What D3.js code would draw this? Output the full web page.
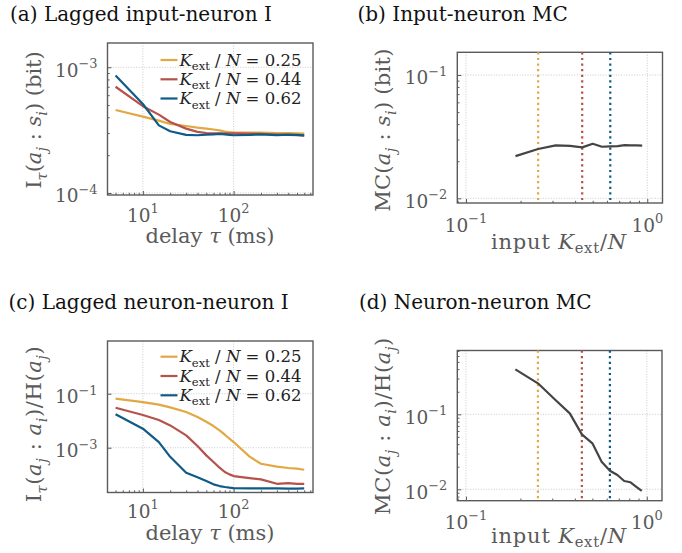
<!DOCTYPE html>
<html><head><meta charset="utf-8">
<script src="https://cdn.jsdelivr.net/npm/d3@7"></script>
<style>body{margin:0;background:#fff}svg{display:block}</style>
</head><body>
<svg id="c" width="682" height="553"></svg>
<script>
// ---------- data ----------
const tau = [5,10,15,20,30,40,50,60,70,80,90,100,150,200,300,400,500,600];
const kLabels = ["0.25","0.44","0.62"];
const kColors = ["#E1A845","#B5524B","#0F5B86"];
// (a) lagged input-neuron I (bit)
const inI_025 = [4.57e-4,4.05e-4,3.76e-4,3.54e-4,3.41e-4,3.31e-4,3.25e-4,3.2e-4,3.15e-4,3.08e-4,3.04e-4,3.03e-4,3.02e-4,3.02e-4,3.0e-4,3.0e-4,2.98e-4,2.97e-4];
const inI_044 = [7.0e-4,4.9e-4,4.2e-4,3.67e-4,3.25e-4,3.06e-4,3.0e-4,2.98e-4,2.98e-4,2.98e-4,2.98e-4,2.98e-4,2.97e-4,2.95e-4,2.92e-4,2.9e-4,2.88e-4,2.86e-4];
const inI_062 = [8.6e-4,5.1e-4,3.45e-4,3.1e-4,2.9e-4,2.88e-4,2.91e-4,2.93e-4,2.95e-4,2.93e-4,2.9e-4,2.88e-4,2.9e-4,2.93e-4,2.89e-4,2.91e-4,2.9e-4,2.87e-4];
// (c) lagged neuron-neuron I / H
const nnI_025 = [0.0653,0.0491,0.0392,0.0312,0.0209,0.01368,0.00918,0.00634,0.00439,0.00303,0.00215,0.00162,4.65e-4,2.55e-4,1.98e-4,1.77e-4,1.67e-4,1.53e-4];
const nnI_044 = [0.0303,0.0162,0.0106,0.00671,0.00286,0.00115,5.2e-4,2.94e-4,1.82e-4,1.26e-4,1.03e-4,8.9e-5,7.5e-5,6.7e-5,4.6e-5,4.9e-5,4.6e-5,4.6e-5];
const nnI_062 = [0.0172,0.00506,0.00162,4.6e-4,1.19e-4,8.0e-5,5.8e-5,4.4e-5,3.8e-5,3.5e-5,3.3e-5,3.2e-5,3.1e-5,3.1e-5,3.1e-5,3.05e-5,3.05e-5,3.1e-5];
// (b),(d) memory capacity vs input fraction
const kext = [0.1875,0.25,0.3125,0.375,0.4375,0.5,0.5625,0.625,0.6875,0.75,0.8125,0.875,0.9375];
const mcIn = [0.0220,0.0251,0.0269,0.0266,0.0259,0.0277,0.0262,0.0264,0.0265,0.0270,0.0269,0.0269,0.0267];
const mcNN = [0.398,0.259,0.155,0.103,0.054,0.041,0.0233,0.0177,0.0155,0.0129,0.0124,0.0108,0.0095];
const markK = [0.25,0.4375,0.625];

// ---------- helpers ----------
const FONT = "DejaVu Serif";
const svg = d3.select("#c");
function rich(t, parts, fs, subShift){
  let cur = 0;
  const sb = subShift===undefined ? 0.28 : subShift;
  parts.forEach(p=>{
    const s=p[0], o=p[1]||{};
    let target=0, size=fs;
    if(o.sub){target=fs*sb; size=fs*0.7;}
    if(o.sup){target=-fs*0.45; size=fs*0.7;}
    const ts=t.append("tspan").text(s).attr("font-size",size);
    if(target-cur!==0) ts.attr("dy",target-cur);
    if(o.i) ts.attr("font-style","italic");
    cur=target;
  });
  return t;
}
function text(x,y,fs,color,anchor){
  return svg.append("text").attr("x",x).attr("y",y).attr("font-family",FONT)
    .attr("font-size",fs).attr("fill",color).attr("text-anchor",anchor||"start");
}
function minorTicks(lo,hi){
  const out=[];
  for(let e=Math.floor(Math.log10(lo))-1;e<=Math.ceil(Math.log10(hi));e++){
    for(let m=2;m<=9;m++){const v=m*Math.pow(10,e); if(v>=lo&&v<=hi) out.push(v);}
  }
  return out;
}
const TICKFS=18.5, LABFS=21, TITLEFS=20, LEGFS=16.5;
const GRAY="#5a5a5a";

function panel(cfg){
  const x=d3.scaleLog().domain(cfg.xd).range([cfg.L,cfg.R]);
  const y=d3.scaleLog().domain(cfg.yd).range([cfg.B,cfg.T]);
  const g=svg.append("g");
  // grid
  cfg.xMaj.forEach(v=>g.append("line").attr("x1",x(v)).attr("x2",x(v)).attr("y1",cfg.T).attr("y2",cfg.B)
    .attr("stroke","#c4c4c4").attr("stroke-width",0.9).attr("stroke-dasharray","1,1.6"));
  cfg.yMaj.forEach(v=>g.append("line").attr("y1",y(v)).attr("y2",y(v)).attr("x1",cfg.L).attr("x2",cfg.R)
    .attr("stroke","#c4c4c4").attr("stroke-width",0.9).attr("stroke-dasharray","1,1.6"));
  // axes ticks (inward)
  const ax=(a)=>{a.select(".domain").remove(); a.selectAll("line").attr("stroke",GRAY).attr("stroke-width",1);};
  g.append("g").attr("transform",`translate(0,${cfg.B})`)
    .call(d3.axisBottom(x).tickValues(cfg.xMaj).tickSize(-4).tickFormat("")).call(ax);
  g.append("g").attr("transform",`translate(0,${cfg.B})`)
    .call(d3.axisBottom(x).tickValues(minorTicks(cfg.xd[0],cfg.xd[1])).tickSize(-2.2).tickFormat("")).call(ax);
  g.append("g").attr("transform",`translate(${cfg.L},0)`)
    .call(d3.axisLeft(y).tickValues(cfg.yMaj).tickSize(-4).tickFormat("")).call(ax);
  if(cfg.yMinor)
    g.append("g").attr("transform",`translate(${cfg.L},0)`)
      .call(d3.axisLeft(y).tickValues(minorTicks(cfg.yd[0],cfg.yd[1])).tickSize(-2.2).tickFormat("")).call(ax);
  // tick labels
  cfg.xMaj.forEach(v=>{
    const e=Math.round(Math.log10(v));
    rich(text(x(v),cfg.xLabY,TICKFS,GRAY,"middle"),[["10"],[String(e).replace("-","−"),{sup:true}]],TICKFS);
  });
  cfg.yLab.forEach(v=>{
    const e=Math.round(Math.log10(v));
    rich(text(cfg.L-10,y(v)+9.5,TICKFS,GRAY,"end"),[["10"],[String(e).replace("-","−"),{sup:true}]],TICKFS);
  });
  // frame
  g.append("rect").attr("x",cfg.L).attr("y",cfg.T).attr("width",cfg.R-cfg.L).attr("height",cfg.B-cfg.T)
    .attr("fill","none").attr("stroke",GRAY).attr("stroke-width",1.4);
  return {x,y,g};
}

function legend(lx,rows){
  kLabels.forEach((k,i)=>{
    svg.append("line").attr("x1",lx).attr("x2",lx+17).attr("y1",rows[i]).attr("y2",rows[i])
      .attr("stroke",kColors[i]).attr("stroke-width",2.2);
    rich(text(lx+19,rows[i]+5.5,LEGFS,"#222"),
      [["K",{i:true}],["ext",{sub:true}],[" / "],["N",{i:true}],[" = "+k]],LEGFS);
  });
}

// ---------- titles ----------
text(10,21,TITLEFS,"#111").text("(a) Lagged input-neuron I");
text(357.5,21,TITLEFS,"#111").text("(b) Input-neuron MC");
text(8.5,309,TITLEFS,"#111").text("(c) Lagged neuron-neuron I");
text(359,309,TITLEFS,"#111").text("(d) Neuron-neuron MC");

// ---------- panel (a) ----------
const A=panel({L:107.5,R:313,T:43,B:195,xd:[Math.pow(10,0.61),Math.pow(10,2.875)],yd:[Math.pow(10,-4.016),Math.pow(10,-2.807)],
  xMaj:[10,100],yMaj:[1e-4,1e-3],yLab:[1e-4,1e-3],yMinor:true,xLabY:221.5});
[inI_025,inI_044,inI_062].forEach((s,i)=>{
  A.g.append("path").datum(s).attr("fill","none").attr("stroke",kColors[i]).attr("stroke-width",2.2)
    .attr("stroke-linejoin","round")
    .attr("d",d3.line().x((d,j)=>A.x(tau[j])).y(d=>A.y(d)));
});
legend(160.5,[60,79.3,98.5]);
rich(text(210,242.5,LABFS,GRAY,"middle"),[["delay "],["τ",{i:true}],[" (ms)"]],LABFS);
rich(text(0,0,LABFS,GRAY,"middle").attr("transform","translate(41,120) rotate(-90)"),
  [["I"],["τ",{sub:true,i:true}],["("],["a",{i:true}],["j",{sub:true,i:true}],[" : "],["s",{i:true}],["i",{sub:true,i:true}],[")"],[" (bit)"]],LABFS);

// ---------- panel (c) ----------
const C=panel({L:107.5,R:313,T:341,B:492.5,xd:[Math.pow(10,0.61),Math.pow(10,2.875)],yd:[Math.pow(10,-4.659),Math.pow(10,0.952)],
  xMaj:[10,100],yMaj:[1e-3,1e-1],yLab:[1e-3,1e-1],yMinor:false,xLabY:517.5});
[nnI_025,nnI_044,nnI_062].forEach((s,i)=>{
  C.g.append("path").datum(s).attr("fill","none").attr("stroke",kColors[i]).attr("stroke-width",2.2)
    .attr("stroke-linejoin","round")
    .attr("d",d3.line().x((d,j)=>C.x(tau[j])).y(d=>C.y(d)));
});
legend(160.5,[356.7,376,395.3]);
rich(text(210,539.5,LABFS,GRAY,"middle"),[["delay "],["τ",{i:true}],[" (ms)"]],LABFS);
rich(text(0,0,LABFS,GRAY,"middle").attr("transform","translate(41,424) rotate(-90)").attr("letter-spacing",0.6),
  [["I"],["τ",{sub:true,i:true}],["("],["a",{i:true}],["j",{sub:true,i:true}],[" : "],["a",{i:true}],["i",{sub:true,i:true}],[")/H("],["a",{i:true}],["j",{sub:true,i:true}],[")"]],LABFS);

// ---------- panels (b),(d) ----------
function mcPanel(cfg,data,xlabY,ylabPos,ylabParts,ls){
  const P=panel(cfg);
  markK.forEach((k,i)=>P.g.append("line").attr("x1",P.x(k)).attr("x2",P.x(k)).attr("y1",cfg.T).attr("y2",cfg.B)
    .attr("stroke",kColors[i]).attr("stroke-width",2.2).attr("stroke-dasharray","2.2,3.4"));
  P.g.append("path").datum(data).attr("fill","none").attr("stroke","#444").attr("stroke-width",2.2)
    .attr("stroke-linejoin","round")
    .attr("d",d3.line().x((d,j)=>P.x(kext[j])).y(d=>P.y(d)));
  rich(text(559,xlabY,LABFS,GRAY,"middle").attr("letter-spacing",0.8),[["input "],["K",{i:true}],["ext",{sub:true}],["/"],["N",{i:true}]],LABFS,0.2);
  rich(text(0,0,LABFS,GRAY,"middle").attr("letter-spacing",ls).attr("transform",`translate(${ylabPos[0]},${ylabPos[1]}) rotate(-90)`),ylabParts,LABFS);
}
mcPanel({L:457.3,R:662.5,T:52.3,B:203,xd:[Math.pow(10,-1.048),Math.pow(10,0.084)],yd:[Math.pow(10,-2.038),Math.pow(10,-0.816)],
  xMaj:[0.1,1],yMaj:[0.01,0.1],yLab:[0.01,0.1],yMinor:true,xLabY:231.5},mcIn,249,[390,130],
  [["MC("],["a",{i:true}],["j",{sub:true,i:true}],[" : "],["s",{i:true}],["i",{sub:true,i:true}],[")"],[" (bit)"]],0.3);
mcPanel({L:457.3,R:662,T:350.5,B:500.7,xd:[Math.pow(10,-1.048),Math.pow(10,0.084)],yd:[Math.pow(10,-2.152),Math.pow(10,-0.149)],
  xMaj:[0.1,1],yMaj:[0.01,0.1],yLab:[0.01,0.1],yMinor:true,xLabY:528.5},mcNN,543,[390,426],
  [["MC("],["a",{i:true}],["j",{sub:true,i:true}],[" : "],["a",{i:true}],["i",{sub:true,i:true}],[")/H("],["a",{i:true}],["j",{sub:true,i:true}],[")"]],0.6);
</script>
</body></html>
